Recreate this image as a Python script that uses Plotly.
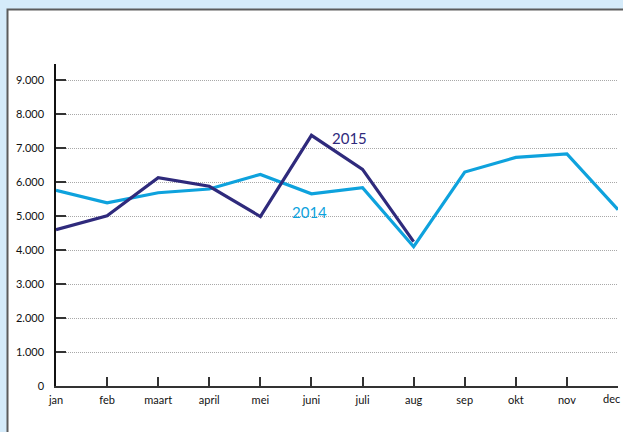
import plotly.graph_objects as go

months = ["jan", "feb", "maart", "april", "mei", "juni", "juli", "aug", "sep", "okt", "nov", "dec"]
values_2014 = [5760, 5390, 5690, 5800, 6230, 5660, 5840, 4100, 6300, 6730, 6830, 5190]
values_2015 = [4600, 5010, 6130, 5880, 4990, 7380, 6380, 4250]
y_ticks = [0, 1000, 2000, 3000, 4000, 5000, 6000, 7000, 8000, 9000]

LIGHT = "#0ea2dd"
DARK = "#2f2a7c"
FONT = "Lato"

x_idx = list(range(len(months)))
# the last month label sits on the page edge; it is drawn as an annotation so that
# plotly does not push the right margin to fit it
tick_text = months[:-1] + [""]

fig = go.Figure()
fig.add_trace(go.Scatter(x=x_idx, y=values_2014, mode="lines",
                         line=dict(color=LIGHT, width=3.2), name="2014", cliponaxis=False))
fig.add_trace(go.Scatter(x=x_idx[:len(values_2015)], y=values_2015, mode="lines",
                         line=dict(color=DARK, width=3.2), name="2015"))

W, H = 623, 432
L, R, T, B = 56, 5, 64, 46
pw = W - L - R
ph = H - T - B

px0 = (7.5 - L) / pw
py1 = (H - B - 9.5) / ph
fig.add_shape(type="rect", xref="paper", yref="paper",
              x0=px0, x1=1.3, y0=-0.5, y1=py1,
              line=dict(color="#5c5c5c", width=2), fillcolor="white", layer="below")

fig.add_annotation(x=5.75, y=7310, xref="x", yref="y", text="2015", showarrow=False,
                   font=dict(family=FONT, size=15, color=DARK))
fig.add_annotation(x=4.97, y=5135, xref="x", yref="y", text="2014", showarrow=False,
                   font=dict(family=FONT, size=15, color=LIGHT))
fig.add_annotation(x=x_idx[-1], y=0, xref="x", yref="y", text=months[-1], showarrow=False,
                   xanchor="right", yanchor="top", xshift=4, yshift=-4,
                   font=dict(family=FONT, size=11, color="#111"))

fig.update_layout(
    width=W, height=H,
    margin=dict(l=L, r=R, t=T, b=B),
    paper_bgcolor="#d5ebfa",
    plot_bgcolor="white",
    showlegend=False,
    separators=",.",
    font=dict(family=FONT, size=11, color="#111"),
    xaxis=dict(
        range=[0, 11], tickvals=x_idx, ticktext=tick_text,
        ticks="inside", ticklen=9, tickwidth=1.5, tickcolor="#333",
        showline=True, linecolor="#333", linewidth=1.5,
        showgrid=False, zeroline=False,
        tickfont=dict(family=FONT, size=11, color="#111"),
        ticklabelstandoff=3,
    ),
    yaxis=dict(
        range=[0, 9480], tickvals=y_ticks, tickformat=",d",
        ticks="inside", ticklen=10, tickwidth=1.5, tickcolor="#333",
        showline=True, linecolor="#111", linewidth=1.5,
        showgrid=True, gridcolor="#a8a8a8", gridwidth=1, griddash="1px,1px",
        zeroline=False,
        tickfont=dict(family=FONT, size=11, color="#111"),
        ticklabelstandoff=8,
    ),
)

fig.write_html("out.html", config={"displayModeBar": False},
               post_script="document.body.style.margin='0';document.body.style.overflow='hidden';")
